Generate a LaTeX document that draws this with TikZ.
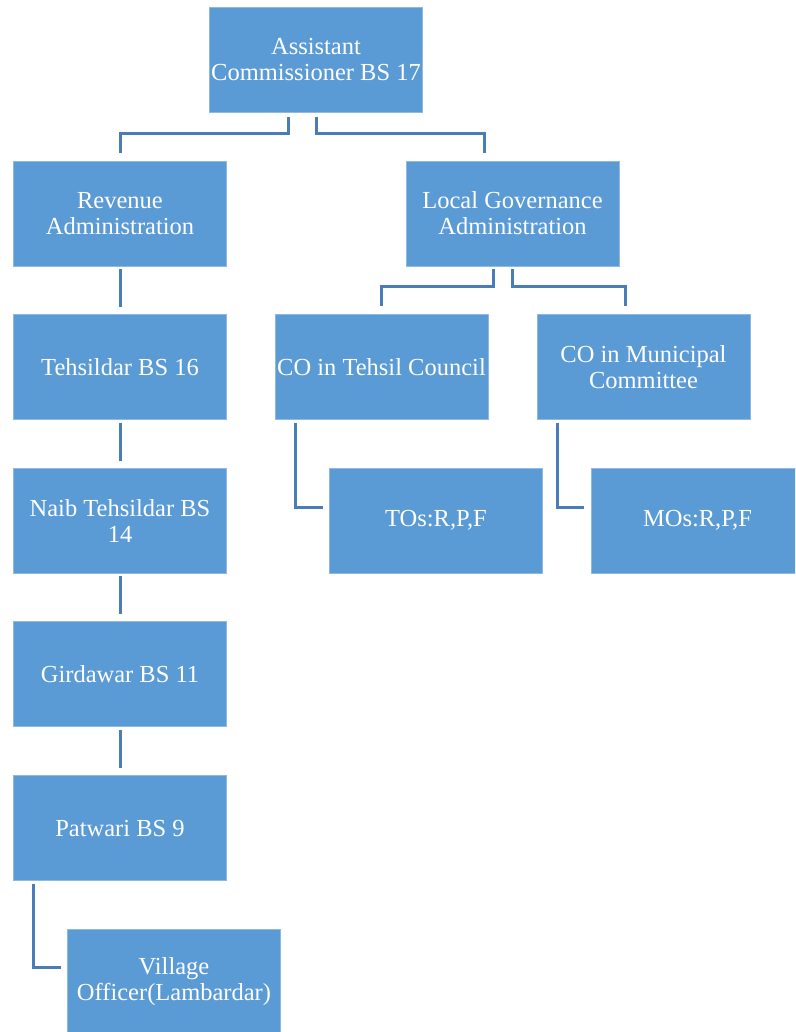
\documentclass[tikz,border=0pt]{standalone}
\usepackage{fontspec}
\setmainfont{Liberation Serif}
\usetikzlibrary{calc}
\definecolor{boxfill}{HTML}{5B9BD5}
\definecolor{boxedge}{HTML}{8DB9E3}
\definecolor{linkblue}{HTML}{4A7DB5}
\begin{document}
\begin{tikzpicture}[x=1pt,y=-1pt,
  unit/.style={rectangle, fill=boxfill, draw=boxedge, line width=0.8pt,
    minimum width=213pt, minimum height=105pt, inner sep=0pt,
    align=center, text=white,
    font=\fontsize{24.5}{26}\selectfont},
  link/.style={draw=linkblue, line width=3pt}]
\useasboundingbox (0,0) rectangle (795,1032);
\clip (0,0) rectangle (795,1032);

% boxes
\node[unit] (ac)   at (316,60)    {Assistant\\Commissioner BS 17};
\node[unit] (rev)  at (120,213.5) {Revenue\\Administration};
\node[unit] (lg)   at (512.5,213.5) {Local Governance\\Administration};
\node[unit] (teh)  at (120,367)   {Tehsildar BS 16};
\node[unit] (cot)  at (381.5,367) {CO in Tehsil Council};
\node[unit] (com)  at (643.5,367) {CO in Municipal\\Committee};
\node[unit] (naib) at (120,520.5) {Naib Tehsildar BS\\14};
\node[unit] (tos)  at (436,520.5) {TOs:R,P,F};
\node[unit] (mos)  at (697.5,520.5) {MOs:R,P,F};
\node[unit] (gir)  at (120,674)   {Girdawar BS 11};
\node[unit] (pat)  at (120,828)   {Patwari BS 9};
\node[unit] (vil)  at (174,981.5) {Village\\Officer(Lambardar)};

% connectors from the top
\draw[link] ($(ac.south)+(-28,4)$) |- ($(rev.north)+(0,-27)$) -- ($(rev.north)+(0,-8)$);
\draw[link] ($(ac.south)+(0,4)$) |- ($(lg.north)+(-28,-27)$) -- ($(lg.north)+(-28,-8)$);

% revenue chain
\draw[link] ($(rev.south)+(0,3)$) -- ($(teh.north)+(0,-7)$);
\draw[link] ($(teh.south)+(0,3)$) -- ($(naib.north)+(0,-7)$);
\draw[link] ($(naib.south)+(0,3)$) -- ($(gir.north)+(0,-7)$);
\draw[link] ($(gir.south)+(0,3)$) -- ($(pat.north)+(0,-7)$);
\draw[link] ($(pat.south)+(-87,3)$) |- ($(vil.west)+(-6,-14.5)$);

% local governance branch
\draw[link] ($(lg.south)+(-19,3)$) |- ($(cot.north)+(0,-28)$) -- ($(cot.north)+(0,-8)$);
\draw[link] ($(lg.south)+(0,3)$) |- ($(com.north)+(-18.5,-28)$) -- ($(com.north)+(-18.5,-8)$);
\draw[link] ($(cot.south)+(-86.5,3)$) |- ($(tos.west)+(-6,-13.5)$);
\draw[link] ($(com.south)+(-86.5,3)$) |- ($(mos.west)+(-7,-13.5)$);
\end{tikzpicture}
\end{document}
